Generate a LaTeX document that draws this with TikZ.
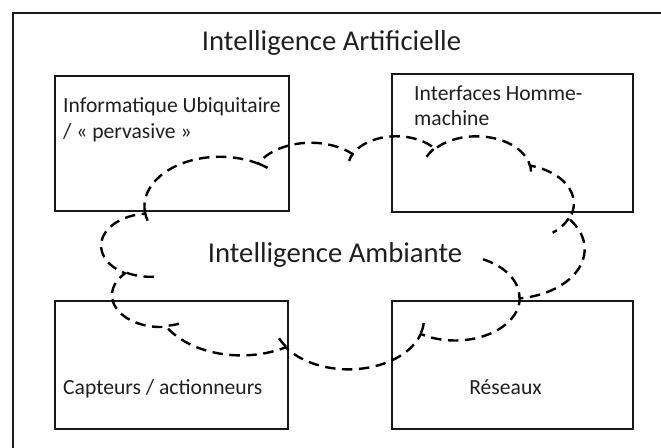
\documentclass[tikz,border=0pt]{standalone}
\usepackage{fontspec}
\setmainfont{Carlito}
\newcommand\cldcalc[5]{%
  \pgfmathsetmacro\cldtmpa{atan2(#2*sin(#4),#3*cos(#4))}%
  \pgfmathsetmacro\cldtmpb{atan2(#2*sin(#4+#5),#3*cos(#4+#5))}%
  \pgfmathsetmacro\cldtmpd{mod(\cldtmpb-\cldtmpa+720,360)}%
  \expandafter\xdef\csname cld#1s\endcsname{\cldtmpa}%
  \expandafter\xdef\csname cld#1d\endcsname{\cldtmpd}%
}
\begin{document}
\begin{tikzpicture}[x=1pt,y=-1pt,
  box/.style={draw=black!90, line width=2pt, inner sep=0pt, anchor=north west},
  lbl/.style={inner sep=0pt, anchor=base west, font=\fontsize{21.6}{25.6}\selectfont, text=black!88},
  big/.style={inner sep=0pt, anchor=base, font=\fontsize{28.7}{34}\selectfont, text=black!88},
  cloudline/.style={line width=2.4pt, dash pattern=on 10.5pt off 6.5pt, draw=black}]
\useasboundingbox (0,0) rectangle (661,447);
\clip (0,0) rectangle (661,447);
\draw[line width=2pt, draw=black!90] (13,13) rectangle (690,480);
% boxes
\node[box, minimum width=234pt, minimum height=135pt] (b1) at (54,75) {};
\node[box, minimum width=241pt, minimum height=138pt] (b2) at (391,73) {};
\node[box, minimum width=233pt, minimum height=128pt] (b3) at (54,300) {};
\node[box, minimum width=241pt, minimum height=128pt] (b4) at (391,300) {};
% texts
\node[big] (ia) at (331.5,50.7) {Intelligence Artificielle};
\node[big] (iam) at (335,262) {Intelligence Ambiante};
\node[lbl] (t1a) at (63,112.7) {Informatique Ubiquitaire};
\node[lbl] (t1b) at (63,138.3) {/ « pervasive »};
\node[lbl] (t2a) at (414,100) {Interfaces Homme-};
\node[lbl] (t2b) at (414,125.7) {machine};
\node[lbl] (t3) at (63,394) {Capteurs / actionneurs};
\node[lbl, anchor=base] (t4) at (505.5,394) {Réseaux};
% cloud (PowerPoint cloud geometry, 43200 grid divided by 100)
\cldcalc{a}{67.53}{91.90}{-190.4875}{123.7805}
\cldcalc{b}{53.33}{72.67}{-144.1024}{89.9452}
\cldcalc{c}{43.65}{59.45}{-145.8079}{99.7230}
\cldcalc{d}{48.57}{65.95}{-130.9861}{117.2417}
\cldcalc{e}{53.33}{72.73}{-78.7089}{109.0269}
\cldcalc{f}{67.75}{92.20}{-46.2673}{130.2690}
\cldcalc{g}{57.85}{78.67}{0.6250}{114.0333}
\cldcalc{h}{67.52}{92.15}{22.4516}{115.1726}
\cldcalc{i}{77.20}{105.43}{66.2426}{75.7110}
\cldcalc{j}{43.60}{59.18}{-274.9421}{146.7356}
\cldcalc{k}{43.45}{59.45}{-246.8285}{152.5189}
\cldcalc{ha}{43.45}{59.45}{86.7420}{26.4295}
\cldcalc{hb}{43.60}{59.18}{73.6105}{11.4475}
\cldcalc{hc}{67.52}{92.15}{137.6242}{14.0811}
\cldcalc{hd}{67.52}{92.15}{6.4533}{15.9984}
\cldcalc{he}{57.85}{78.67}{-70.2924}{70.9174}
\cldcalc{hf}{53.33}{72.73}{30.3180}{27.7515}
\cldcalc{hg}{48.57}{65.95}{-13.7443}{14.8589}
\cldcalc{hh}{48.57}{65.95}{-149.1815}{18.1954}
\cldcalc{hi}{43.65}{59.45}{-163.4943}{17.6864}
\cldcalc{hj}{67.53}{91.90}{-66.7070}{12.3194}
\cldcalc{hk}{67.53}{91.90}{157.6544}{11.8582}
\begin{scope}[shift={(101.5pt,-135.5pt)}, x=1.118056pt, y=-0.539352pt]
\draw[cloudline] (39.00,143.70)
  arc[start angle=\csname cldas\endcsname, delta angle=\csname cldad\endcsname, x radius=67.53, y radius=91.90]
  arc[start angle=\csname cldbs\endcsname, delta angle=\csname cldbd\endcsname, x radius=53.33, y radius=72.67]
  arc[start angle=\csname cldcs\endcsname, delta angle=\csname cldcd\endcsname, x radius=43.65, y radius=59.45]
  arc[start angle=\csname cldds\endcsname, delta angle=\csname clddd\endcsname, x radius=48.57, y radius=65.95]
  arc[start angle=\csname cldes\endcsname, delta angle=\csname clded\endcsname, x radius=53.33, y radius=72.73]
  arc[start angle=\csname cldfs\endcsname, delta angle=\csname cldfd\endcsname, x radius=67.75, y radius=92.20]
  arc[start angle=\csname cldgs\endcsname, delta angle=\csname cldgd\endcsname, x radius=57.85, y radius=78.67]
  arc[start angle=\csname cldhs\endcsname, delta angle=\csname cldhd\endcsname, x radius=67.52, y radius=92.15]
  arc[start angle=\csname cldis\endcsname, delta angle=\csname cldid\endcsname, x radius=77.20, y radius=105.43]
  arc[start angle=\csname cldjs\endcsname, delta angle=\csname cldjd\endcsname, x radius=43.60, y radius=59.18]
  arc[start angle=\csname cldks\endcsname, delta angle=\csname cldkd\endcsname, x radius=43.45, y radius=59.45]
  -- cycle;
\draw[cloudline]
  (46.93,261.77) arc[start angle=\csname cldhas\endcsname, delta angle=\csname cldhad\endcsname, x radius=43.45, y radius=59.45]
  (69.28,348.99) arc[start angle=\csname cldhbs\endcsname, delta angle=\csname cldhbd\endcsname, x radius=43.60, y radius=59.18]
  (164.78,390.90) arc[start angle=\csname cldhcs\endcsname, delta angle=\csname cldhcd\endcsname, x radius=67.52, y radius=92.15]
  (288.27,347.51) arc[start angle=\csname cldhds\endcsname, delta angle=\csname cldhdd\endcsname, x radius=67.52, y radius=92.15]
  (341.29,229.54) arc[start angle=\csname cldhes\endcsname, delta angle=\csname cldhed\endcsname, x radius=57.85, y radius=78.67]
  (417.98,153.54) arc[start angle=\csname cldhfs\endcsname, delta angle=\csname cldhfd\endcsname, x radius=53.33, y radius=72.73]
  (383.24,54.26) arc[start angle=\csname cldhgs\endcsname, delta angle=\csname cldhgd\endcsname, x radius=48.57, y radius=65.95]
  (290.78,39.52) arc[start angle=\csname cldhhs\endcsname, delta angle=\csname cldhhd\endcsname, x radius=48.57, y radius=65.95]
  (221.41,47.20) arc[start angle=\csname cldhis\endcsname, delta angle=\csname cldhid\endcsname, x radius=43.65, y radius=59.45]
  (140.00,51.92) arc[start angle=\csname cldhjs\endcsname, delta angle=\csname cldhjd\endcsname, x radius=67.53, y radius=91.90]
  (41.27,157.89) arc[start angle=\csname cldhks\endcsname, delta angle=\csname cldhkd\endcsname, x radius=67.53, y radius=91.90];
\end{scope}
\end{tikzpicture}
\end{document}
